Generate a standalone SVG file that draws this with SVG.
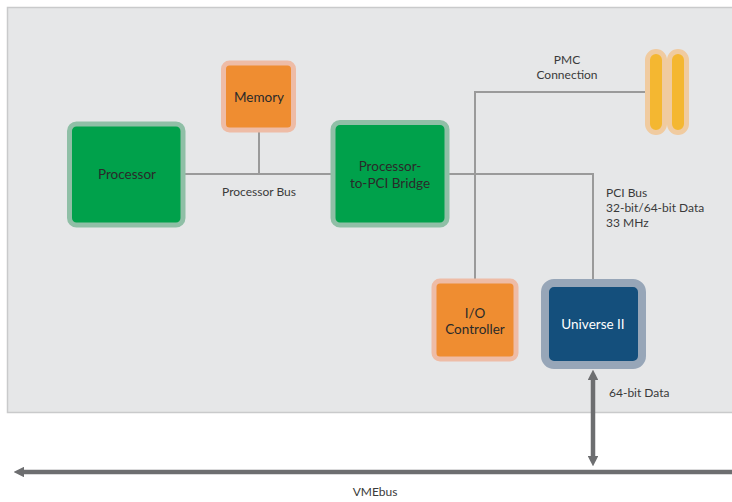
<svg xmlns="http://www.w3.org/2000/svg" width="732" height="502" viewBox="0 0 732 502">
<style>
text{font-family:Lato,"Open Sans","Liberation Sans",sans-serif;fill:#3a3a3a}
.lbl{font-size:12px}
.nt{font-size:13.5px;text-anchor:middle;fill:#2a2a2a}
.bus{fill:none;stroke:#9a9a9a;stroke-width:2}
.green{fill:#00a14b;stroke:#8fbfa6;stroke-width:5}
.orange{fill:#ef8d31;stroke:#eebca6;stroke-width:5}
.pill{fill:#f4b731;stroke:#f0cba0;stroke-width:5}
.big{stroke:#6d6e70;stroke-width:4.5;fill:none}
</style>
<defs>
<marker id="ah" viewBox="0 0 10 10" refX="5" refY="5" markerWidth="2.4" markerHeight="2.4" orient="auto-start-reverse" markerUnits="strokeWidth">
<path d="M0,0 L10,5 L0,10 z" fill="#6d6e70"/>
</marker>
</defs>
<rect x="7.5" y="7.5" width="730" height="405" fill="#e6e7e8" stroke="#c9cacb" stroke-width="1.5"/>
<g id="connectors">
<path class="bus" d="M185,174 H331 M259,132 V174 M449,174 H593 V283 M475,282 V92 H650"/>
<line class="big" x1="593" y1="375" x2="593" y2="461" marker-start="url(#ah)" marker-end="url(#ah)"/>
<line class="big" x1="732" y1="472" x2="19" y2="472" stroke-width="5" marker-end="url(#ah)"/>
</g>
<g id="processor">
<rect class="green" x="69.5" y="124" width="113.5" height="101" rx="7"/>
<text class="nt" x="127" y="179">Processor</text>
</g>
<g id="memory">
<rect class="orange" x="223.5" y="63" width="70" height="67" rx="6"/>
<text class="nt" x="259" y="102">Memory</text>
</g>
<g id="bridge">
<rect class="green" x="333" y="122.5" width="114" height="102.5" rx="7"/>
<text class="nt" x="390" y="171">Processor-</text>
<text class="nt" x="390" y="188">to-PCI Bridge</text>
</g>
<g id="pmc">
<rect class="pill" x="647.5" y="51.5" width="17" height="81" rx="8.5"/>
<rect class="pill" x="669.5" y="51.5" width="17" height="81" rx="8.5"/>
</g>
<g id="io">
<rect class="orange" x="434" y="281" width="82" height="78" rx="6"/>
<text class="nt" x="475" y="318">I/O</text>
<text class="nt" x="475" y="333.5">Controller</text>
</g>
<g id="universe">
<rect x="545" y="283" width="97" height="82" rx="9" fill="#144f7c" stroke="#97a6b8" stroke-width="8"/>
<text class="nt" x="593" y="329" style="fill:#ffffff">Universe II</text>
</g>
<g id="labels">
<text class="lbl" x="259" y="196" text-anchor="middle">Processor Bus</text>
<text class="lbl" x="567" y="64" text-anchor="middle">PMC</text>
<text class="lbl" x="567" y="79" text-anchor="middle">Connection</text>
<text class="lbl" x="606" y="197">PCI Bus</text>
<text class="lbl" x="606" y="212">32-bit/64-bit Data</text>
<text class="lbl" x="606" y="227">33 MHz</text>
<text class="lbl" x="609" y="397">64-bit Data</text>
<text class="lbl" x="375" y="496" text-anchor="middle">VMEbus</text>
</g>
</svg>
